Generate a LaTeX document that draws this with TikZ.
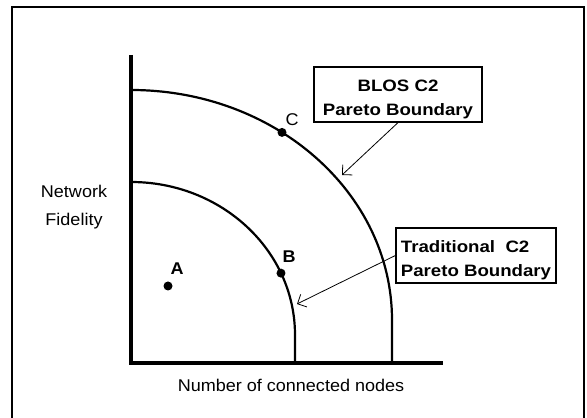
\documentclass[tikz,border=0pt]{standalone}
\usepackage{fontspec}
\setmainfont{Liberation Sans}[FakeStretch=1.06]
\newfontfamily\tagfont{Liberation Sans}[FakeStretch=1.13]
\usetikzlibrary{arrows.meta,positioning,calc}

\begin{document}
\begin{tikzpicture}[x=1pt, y=1pt, >={Straight Barb[length=7pt,width=14pt]},
    axis/.style={line width=4pt, line join=miter},
    front/.style={line width=2.2pt},
    dot/.style={circle, fill, inner sep=0pt, minimum size=9pt},
    tagbox/.style={draw, line width=1.2pt, inner sep=0pt, align=center, font=\tagfont\bfseries\fontsize{16.5}{24}\selectfont},
    point/.style={inner sep=0pt, font=\fontsize{17}{19}\selectfont}]
    \useasboundingbox (0,0) rectangle (587,418);
    % frame round the figure
    \draw [line width=2pt] (12,0) -- (12,411) -- (584,411) -- (584,0);

    % axes and the two boundaries
    \coordinate (origin) at (131,55);
    \coordinate (inner) at (131,83);
    \coordinate (outer) at (131,98);
    \draw [axis] (131,363) -- (origin) -- (443,55);
    \draw [front] (131,236) arc[start angle=90, end angle=0, x radius=164, y radius=153] -- (295,55);
    \draw [front] (131,328) arc[start angle=90, end angle=0, x radius=261, y radius=230] -- (392,55);

    \node [dot] (a) at (168,132) {};
    \node [dot] (b) at ($(inner)+(23.85:164 and 153)$) {};
    \node [dot] (c) at ($(outer)+(54.65:261 and 230)$) {};
    \node [point, font=\bfseries\fontsize{17}{19}\selectfont, above right=8pt and -1pt of a] (labA) {A};
    \node [point, font=\bfseries\fontsize{17}{19}\selectfont, above right=7pt and -2pt of b] (labB) {B};
    \node [point, above right=3pt and 0pt of c] (labC) {C};

    \node [font=\fontsize{17}{28}\selectfont, align=center] (fidelity) at (74,211) {Network\\Fidelity};
    \node [font=\fontsize{17}{19}\selectfont] (nodes) at (291,33) {Number of connected nodes};

    % callouts
    \node [tagbox, minimum width=168pt] (blos) at (398,323.5) {\rule{0pt}{25pt}BLOS C2\\Pareto Boundary\rule[-6pt]{0pt}{6pt}};
    \node [tagbox, minimum width=160pt, align=left] (trad) at (476,162.5) {\rule{0pt}{25pt}Traditional\ \ C2\\Pareto Boundary\rule[-6pt]{0pt}{6pt}};
    \coordinate (tipouter) at (342,243);
    \coordinate (tipinner) at (297,114);

    \draw [->, line width=0.8pt] (blos.south) -- (tipouter);
    \draw [->, line width=0.8pt] (trad.west) -- (tipinner);
\end{tikzpicture}
\end{document}
